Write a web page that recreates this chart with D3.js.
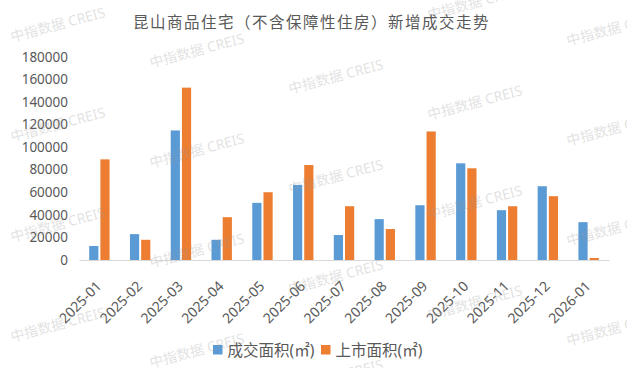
<!DOCTYPE html>
<html><head><meta charset="utf-8">
<script src="https://cdn.jsdelivr.net/npm/d3@7/dist/d3.min.js"></script>
<style>
html,body{margin:0;padding:0;background:#fff;}
svg{display:block;}
</style></head>
<body><svg id="c" width="627" height="368"></svg>
<script>
const categories = ["2025-01","2025-02","2025-03","2025-04","2025-05","2025-06","2025-07","2025-08","2025-09","2025-10","2025-11","2025-12","2026-01"];
const dealArea = [12400,22900,114700,17900,50600,66500,22100,36200,48500,85600,44100,65300,33500];
const listArea = [89100,17900,152600,37900,60000,84100,47600,27400,113800,81200,47600,56500,1800];
const seriesNames = ["成交面积(㎡)","上市面积(㎡)"];
const seriesColors = ["#5B9BD5","#ED7D31"];
const yTicks = [0,20000,40000,60000,80000,100000,120000,140000,160000,180000];
const title = "昆山商品住宅（不含保障性住房）新增成交走势";
const watermark = "中指数据 CREIS";

const svg = d3.select("#c");
const font = "'Noto Sans','Noto Sans CJK SC',sans-serif";

const x = d3.scaleBand().domain(categories).range([79, 609]).padding(0);
const x1 = d3.scaleBand().domain([0,1]).range([-10.2, 10.2]).paddingInner(0.18);
const y = d3.scaleLinear().domain([0, 180000]).range([260, 56.7]);

// title
svg.append("text").attr("x", 133).attr("y", 28).text(title)
  .attr("font-family", font).attr("font-size", 15.5).attr("letter-spacing", "1.5px")
  .attr("fill", "#595959");

// y axis labels
const yAxis = d3.axisLeft(y).tickValues(yTicks).tickSize(0).tickPadding(0).tickFormat(d3.format("d"));
const gy = svg.append("g").attr("transform", "translate(68,0)").call(yAxis);
gy.select(".domain").remove();
gy.selectAll("text").attr("font-family", font).attr("font-size", 13.5).attr("fill", "#595959");

// bars
const data = categories.map((c, i) => ({c, v: [dealArea[i], listArea[i]]}));
const g = svg.append("g");
data.forEach(d => {
  d.v.forEach((v, k) => {
    g.append("rect")
      .attr("x", x(d.c) + x.bandwidth()/2 + x1(k))
      .attr("y", y(v))
      .attr("width", x1.bandwidth())
      .attr("height", y(0) - y(v))
      .attr("fill", seriesColors[k]);
  });
});

// x axis
const xAxis = d3.axisBottom(x).tickSize(0).tickPadding(0);
const gx = svg.append("g").attr("transform", "translate(0,260)").call(xAxis);
gx.select(".domain").attr("stroke", "#d9d9d9").attr("stroke-width", 1);
gx.selectAll("text")
  .attr("font-family", font).attr("font-size", 14).attr("fill", "#595959")
  .attr("text-anchor", "end").attr("dy", 0)
  .attr("transform", "translate(3,27) rotate(-45)");

// legend
const leg = svg.append("g");
const legX = [213, 321];
seriesNames.forEach((n, k) => {
  leg.append("rect").attr("x", legX[k]).attr("y", 345).attr("width", 9.5).attr("height", 9.5).attr("fill", seriesColors[k]);
  leg.append("text").attr("x", legX[k] + 14.5).attr("y", 356).text(n)
    .attr("font-family", font).attr("font-size", 15.5).attr("fill", "#595959");
});

// watermark tiles
const wm = svg.append("g").attr("pointer-events", "none");
for (let i = 0; i < 5; i++) {
  const x0 = 12 + 139 * i;
  const base = (42 + 26 * i) % 100;
  for (let yy = base; yy < 400; yy += 100) {
    wm.append("text").attr("transform", `translate(${x0},${yy}) rotate(-15)`)
      .text(watermark).attr("font-family", font).attr("font-size", 14)
      .attr("fill", "#9a9a9a").attr("fill-opacity", 0.3);
  }
}
</script></body></html>
